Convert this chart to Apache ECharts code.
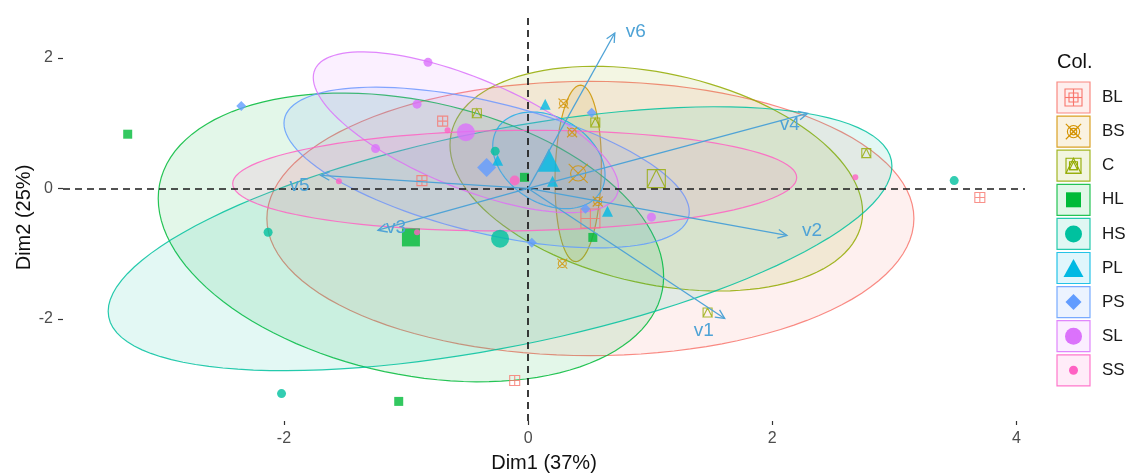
<!DOCTYPE html>
<html>
<head>
<meta charset="utf-8">
<script src="https://cdn.jsdelivr.net/npm/echarts@6/dist/echarts.min.js"></script>
<style>
html, body { margin: 0; padding: 0; background: #ffffff; }
#chart { width: 1126px; height: 474px; }
</style>
</head>
<body>
<div id="chart"></div>
<script>
// Groups and their colours
const groups = ['BL', 'BS', 'C', 'HL', 'HS', 'PL', 'PS', 'SL', 'SS'];
const groupColors = ['#F8766D', '#D39200', '#93AA00', '#00BA38', '#00C19F', '#00B9E3', '#619CFF', '#DB72FB', '#FF61C3'];

// Individual scores (Dim1, Dim2) per group
const pointsBL = [[-0.70, 1.03], [-0.87, 0.12], [3.70, -0.14], [-0.11, -2.94]];
const pointsBS = [[0.29, 1.30], [0.36, 0.86], [0.28, -1.15], [0.57, -0.20]];
const pointsC  = [[-0.42, 1.15], [2.77, 0.54], [1.47, -1.90], [0.55, 1.01]];
const pointsHL = [[-3.28, 0.83], [-1.06, -3.26], [0.53, -0.75], [-0.03, 0.17]];
const pointsHS = [[-2.13, -0.67], [-2.02, -3.14], [3.49, 0.12], [-0.27, 0.57]];
const pointsPL = [[0.14, 1.29], [-0.25, 0.43], [0.65, -0.35], [0.20, 0.11]];
const pointsPS = [[-2.35, 1.26], [0.52, 1.16], [0.03, -0.83], [0.47, -0.31]];
const pointsSL = [[-0.82, 1.93], [-1.25, 0.61], [-0.91, 1.29], [1.01, -0.44]];
const pointsSS = [[-1.55, 0.11], [2.68, 0.17], [-0.66, 0.89], [-0.91, -0.67]];
const groupPoints = [pointsBL, pointsBS, pointsC, pointsHL, pointsHS, pointsPL, pointsPS, pointsSL, pointsSS];

// Group centroids
const groupMeans = [[0.51, -0.46], [0.41, 0.23], [1.05, 0.15], [-0.96, -0.75], [-0.23, -0.77],
                    [0.17, 0.43], [-0.34, 0.32], [-0.51, 0.86], [-0.11, 0.12]];

// Concentration ellipses: half-extent on Dim1, half-extent on Dim2, correlation
const ellipseSX  = [2.65, 0.19, 1.69, 2.07, 3.21, 0.46, 1.66, 1.25, 2.31];
const ellipseSY  = [2.10, 1.35, 1.72, 2.21, 2.02, 0.74, 1.23, 1.23, 0.77];
const ellipseRho = [0.00, 0.10, -0.30, -0.27, 0.55, -0.30, -0.55, -0.68, 0.06];

// Variable loadings (arrows)
const varNames = ['v1', 'v2', 'v3', 'v4', 'v5', 'v6'];
const varDim1  = [1.61, 2.12, -1.23, 2.29, -1.70, 0.71];
const varDim2  = [-1.99, -0.72, -0.64, 1.15, 0.20, 2.38];

// Axis ticks
const xTicks = [-2, 0, 2, 4];
const yTicks = [-2, 0, 2];

// ---- styling ----
const FONT = '"Liberation Sans", Arial, sans-serif';
const arrowColor = '#4FA3D6';
const varLabelDX = [-21, 25, 18, -18, -21, 21];
const varLabelDY = [12, -5, -2, 11, 10, -1];

// Marker paths (unit box 10x10)
const shapePaths = {
  squarePlus: 'M0,0H10V10H0Z M5,0V10 M0,5H10',
  circleCross: 'M8.6,5A3.6,3.6,0,1,1,1.4,5A3.6,3.6,0,1,1,8.6,5Z M0.5,0.5L9.5,9.5 M9.5,0.5L0.5,9.5',
  squareTriangle: 'M0,0H10V10H0Z M5,0L10,10H0Z',
  square: 'M0,0H10V10H0Z',
  circle: 'M10,5A5,5,0,1,1,0,5A5,5,0,1,1,10,5Z',
  triangle: 'M5,0L10,9H0Z',
  diamond: 'M5,0L10,5L5,10L0,5Z'
};
const groupShape  = ['squarePlus', 'circleCross', 'squareTriangle', 'square', 'circle', 'triangle', 'diamond', 'circle', 'circle'];
const groupHollow = [true, true, true, false, false, false, false, false, false];
const smallSize = [10, 10, 9, 9, 9, 11, 10, 9, 6];
const meanSize  = [19, 19, 18, 18, 18, 23, 19, 18, 10];
const legendSize = [17, 17, 15, 15, 17, 20, 16, 17, 9];

function rgba(hex, a) {
  const n = parseInt(hex.slice(1), 16);
  return 'rgba(' + (n >> 16 & 255) + ',' + (n >> 8 & 255) + ',' + (n & 255) + ',' + a + ')';
}

// Legend key marker built from primitive shapes
function keyMarker(shape, cx, cy, s, color) {
  const h = s / 2;
  const stroke = { fill: null, stroke: color, lineWidth: 1.1 };
  const filled = { fill: color };
  const out = [];
  const line = (x1, y1, x2, y2) => ({ type: 'line', shape: { x1, y1, x2, y2 }, style: stroke });
  if (shape === 'squarePlus') {
    out.push({ type: 'rect', shape: { x: cx - h, y: cy - h, width: s, height: s }, style: stroke });
    out.push(line(cx, cy - h, cx, cy + h), line(cx - h, cy, cx + h, cy));
  } else if (shape === 'circleCross') {
    out.push({ type: 'circle', shape: { cx, cy, r: h * 0.72 }, style: stroke });
    out.push(line(cx - h * 0.9, cy - h * 0.9, cx + h * 0.9, cy + h * 0.9), line(cx + h * 0.9, cy - h * 0.9, cx - h * 0.9, cy + h * 0.9));
  } else if (shape === 'squareTriangle') {
    out.push({ type: 'rect', shape: { x: cx - h, y: cy - h, width: s, height: s }, style: stroke });
    out.push({ type: 'polygon', shape: { points: [[cx, cy - h], [cx + h, cy + h], [cx - h, cy + h]] }, style: stroke });
  } else if (shape === 'square') {
    out.push({ type: 'rect', shape: { x: cx - h, y: cy - h, width: s, height: s }, style: filled });
  } else if (shape === 'circle') {
    out.push({ type: 'circle', shape: { cx, cy, r: h }, style: filled });
  } else if (shape === 'triangle') {
    out.push({ type: 'polygon', shape: { points: [[cx, cy - h * 0.9], [cx + h, cy + h * 0.9], [cx - h, cy + h * 0.9]] }, style: filled });
  } else if (shape === 'diamond') {
    out.push({ type: 'polygon', shape: { points: [[cx, cy - h], [cx + h, cy], [cx, cy + h], [cx - h, cy]] }, style: filled });
  }
  return out;
}

const chart = echarts.init(document.getElementById('chart'), null, { renderer: 'canvas' });

// Ellipse polygons
const ellipseSeries = {
  type: 'custom',
  name: 'ellipses',
  z: 2,
  clip: true,
  silent: true,
  encode: { x: 0, y: 1 },
  data: groups.map((g, i) => [groupMeans[i][0], groupMeans[i][1], ellipseSX[i], ellipseSY[i], ellipseRho[i], i]),
  renderItem: function (params, api) {
    const cx = api.value(0), cy = api.value(1), sx = api.value(2), sy = api.value(3), r = api.value(4);
    const gi = api.value(5);
    const k = Math.sqrt(1 - r * r);
    const pts = [];
    const N = 120;
    for (let j = 0; j < N; j++) {
      const t = 2 * Math.PI * j / N;
      pts.push(api.coord([cx + sx * Math.cos(t), cy + sy * (r * Math.cos(t) + k * Math.sin(t))]));
    }
    return {
      type: 'polygon',
      shape: { points: pts },
      style: { fill: rgba(groupColors[gi], 0.11), stroke: rgba(groupColors[gi], 0.85), lineWidth: 1.2 }
    };
  }
};

// Reference lines at the origin
const refSeries = {
  type: 'line',
  name: 'ref',
  data: [],
  z: 1,
  silent: true,
  markLine: {
    silent: true,
    symbol: ['none', 'none'],
    label: { show: false },
    lineStyle: { type: [7, 5], color: '#1a1a1a', width: 1.7 },
    data: [{ xAxis: 0 }, { yAxis: 0 }]
  }
};

// Points per group (individuals small, centroid large)
const pointSeries = groups.map((g, i) => {
  const sym = 'path://' + shapePaths[groupShape[i]];
  const style = groupHollow[i]
    ? { color: 'rgba(0,0,0,0)', borderColor: groupColors[i], borderWidth: 1.1 }
    : { color: groupColors[i], borderWidth: 0 };
  const data = groupPoints[i].map(p => ({ value: p, symbolSize: smallSize[i] }));
  data.push({ value: groupMeans[i], symbolSize: meanSize[i] });
  return {
    type: 'scatter',
    name: g,
    symbol: sym,
    z: 3,
    itemStyle: style,
    data: data
  };
});

// Variable arrows
const arrowSeries = {
  type: 'custom',
  name: 'variables',
  z: 5,
  clip: false,
  silent: true,
  encode: { x: 0, y: 1 },
  data: varNames.map((n, i) => [varDim1[i], varDim2[i], i]),
  renderItem: function (params, api) {
    const i = api.value(2);
    const o = api.coord([0, 0]);
    const p = api.coord([api.value(0), api.value(1)]);
    const ang = Math.atan2(p[1] - o[1], p[0] - o[0]);
    const L = 10, a = Math.PI / 7;
    const h1 = [p[0] - L * Math.cos(ang - a), p[1] - L * Math.sin(ang - a)];
    const h2 = [p[0] - L * Math.cos(ang + a), p[1] - L * Math.sin(ang + a)];
    return {
      type: 'group',
      children: [
        { type: 'line', shape: { x1: o[0], y1: o[1], x2: p[0], y2: p[1] }, style: { stroke: arrowColor, lineWidth: 1.3 } },
        { type: 'polyline', shape: { points: [h1, p, h2] }, style: { stroke: arrowColor, lineWidth: 1.3, fill: null } },
        { type: 'text', x: p[0] + varLabelDX[i], y: p[1] + varLabelDY[i],
          style: { text: varNames[i], fill: arrowColor, font: '19px ' + FONT, align: 'center', verticalAlign: 'middle' } }
      ]
    };
  }
};

// Legend drawn as keys: box + marker + label
const legendElems = [{
  type: 'text', x: 1057, y: 62,
  style: { text: 'Col.', fill: '#111', font: '20px ' + FONT, align: 'left', verticalAlign: 'middle' }
}];
groups.forEach((g, i) => {
  const top = 82 + i * 34.1;
  const cxk = 1073.5, cyk = top + 15.5;
  legendElems.push({
    type: 'rect', shape: { x: 1057, y: top, width: 33, height: 31 },
    style: { fill: rgba(groupColors[i], 0.12), stroke: rgba(groupColors[i], 0.85), lineWidth: 1.2 }
  });
  [legendSize[i], Math.round(legendSize[i] * 0.5)].forEach(s => {
    keyMarker(groupShape[i], cxk, cyk, s, groupColors[i]).forEach(el => legendElems.push(el));
  });
  legendElems.push({
    type: 'text', x: 1102, y: cyk,
    style: { text: g, fill: '#1a1a1a', font: '17px ' + FONT, align: 'left', verticalAlign: 'middle' }
  });
});

const option = {
  animation: false,
  backgroundColor: '#ffffff',
  grid: { left: 63, right: 101, top: 14, bottom: 53, containLabel: false, outerBoundsMode: 'none' },
  xAxis: {
    type: 'value',
    min: -3.81, max: 4.07,
    name: 'Dim1 (37%)',
    nameLocation: 'middle',
    nameGap: 32,
    nameTextStyle: { fontSize: 20, color: '#111', fontFamily: FONT },
    axisLine: { show: false, onZero: false },
    axisTick: { show: true, length: 4, customValues: xTicks, lineStyle: { color: '#333', width: 1.2 } },
    axisLabel: { customValues: xTicks, fontSize: 16, color: '#4d4d4d', margin: 10, fontFamily: FONT },
    splitLine: { show: false }
  },
  yAxis: {
    type: 'value',
    min: -3.56, max: 2.67,
    name: 'Dim2 (25%)',
    nameLocation: 'middle',
    nameRotate: 90,
    nameGap: 29,
    nameMoveOverlap: false,
    nameTextStyle: { fontSize: 20, color: '#111', fontFamily: FONT },
    axisLine: { show: false, onZero: false },
    axisTick: { show: true, length: 5, customValues: yTicks, lineStyle: { color: '#333', width: 1.2 } },
    axisLabel: { customValues: yTicks, fontSize: 16, color: '#4d4d4d', margin: 10, fontFamily: FONT },
    splitLine: { show: false }
  },
  graphic: legendElems,
  series: [refSeries, ellipseSeries].concat(pointSeries, [arrowSeries])
};

chart.setOption(option);
</script>
</body>
</html>
